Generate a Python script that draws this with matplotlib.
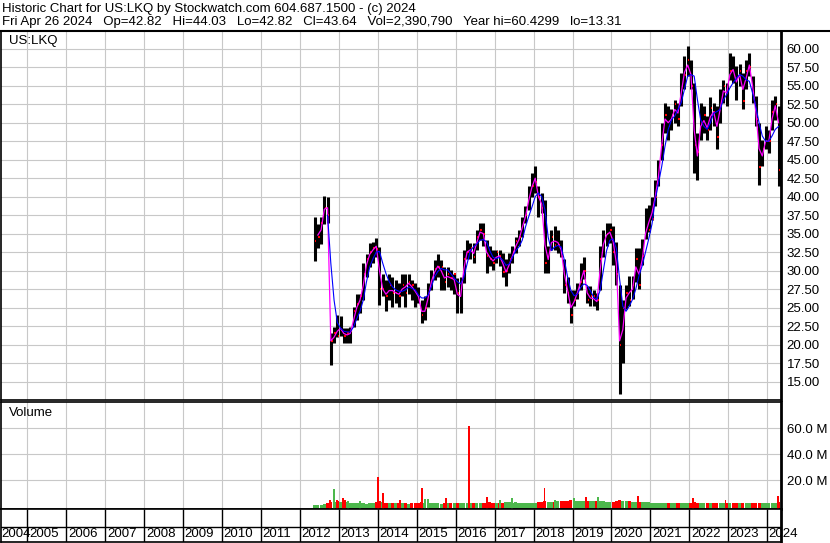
import matplotlib
matplotlib.use("Agg")
import matplotlib.pyplot as plt
import numpy as np

plt.rcParams['font.family'] = ['Liberation Sans', 'DejaVu Sans']

# colors
red = '#ff0000'
green = '#4cb84c'
magenta = '#ff00ff'
blue = '#0000ff'
grid_grey = '#c8c8c8'

# monthly bars, May 2012 .. Apr 2024 (pre-split prices until Sep 2012)
first_year, first_month = 2012, 5
price_hi = [37.2, 36.3, 37.2, 40.1, 40.0, 21.5, 22.4, 24.0,
            23.8, 22.2, 22.2, 22.4, 25.1, 26.9, 26.9, 31.0, 32.3, 33.7, 33.9, 34.4,
            33.2, 29.6, 28.7, 29.6, 29.2, 28.7, 28.3, 29.6, 29.6, 29.6, 28.7, 28.3,
            27.8, 26.0, 26.5, 28.3, 30.1, 31.4, 32.3, 31.4, 30.5, 30.5, 30.1, 29.6,
            29.0, 29.2, 32.8, 34.2, 33.7, 33.7, 35.5, 36.4, 36.4, 34.2, 33.3, 32.8,
            32.8, 32.8, 32.4, 31.5, 32.4, 33.3, 34.6, 35.5, 37.3, 38.7, 41.4, 43.2,
            44.1, 41.4, 40.5, 39.6, 33.3, 35.5, 36.0, 35.5, 34.2, 31.5, 29.2, 27.4,
            27.4, 28.3, 31.0, 31.9, 27.9, 27.9, 27.4, 27.0, 33.3, 35.5, 36.4, 36.4,
            36.0, 33.9, 28.0, 26.0, 28.0, 29.3, 29.3, 33.0, 33.0, 34.3, 38.4, 38.9,
            40.0, 42.3, 45.0, 50.0, 52.7, 52.2, 51.8, 53.1, 52.7, 56.7, 59.0, 60.4,
            58.5, 55.4, 48.6, 52.7, 52.2, 50.9, 53.5, 52.7, 52.2, 54.5, 55.8, 55.4,
            59.4, 59.0, 57.6, 58.0, 56.7, 58.5, 59.4, 56.3, 53.6, 50.0, 47.7, 49.5,
            49.0, 53.1, 53.6, 52.2]
price_lo = [31.3, 33.1, 33.6, 36.3, 36.5, 17.3, 20.2, 21.0,
            21.1, 20.2, 20.2, 20.2, 22.4, 23.3, 24.2, 26.0, 29.2, 30.5, 31.0, 31.9,
            25.4, 26.5, 24.5, 26.0, 25.1, 25.6, 25.1, 26.5, 25.1, 26.9, 26.0, 25.1,
            25.6, 22.9, 23.3, 25.1, 27.4, 28.7, 29.2, 27.4, 27.4, 27.8, 27.4, 26.9,
            24.2, 24.3, 28.3, 31.5, 31.5, 31.0, 32.8, 34.2, 33.3, 29.7, 30.6, 30.1,
            31.0, 30.6, 29.2, 27.9, 29.7, 31.0, 32.4, 33.3, 34.6, 36.4, 38.2, 40.0,
            40.5, 37.3, 37.8, 29.7, 29.7, 32.8, 32.8, 32.4, 31.9, 27.0, 25.6, 22.9,
            25.2, 26.1, 27.4, 28.8, 25.6, 25.2, 25.2, 24.7, 27.4, 31.9, 33.3, 33.7,
            30.7, 28.0, 13.3, 17.5, 24.8, 25.2, 26.1, 28.4, 27.5, 30.7, 34.3, 35.2,
            36.9, 38.7, 41.4, 45.0, 48.6, 47.7, 49.0, 50.0, 49.5, 52.2, 54.5, 56.3,
            54.5, 43.2, 42.3, 47.7, 48.6, 47.7, 49.0, 49.5, 46.4, 50.0, 52.7, 52.2,
            55.8, 55.4, 53.1, 54.9, 51.8, 54.5, 56.3, 52.7, 49.5, 41.6, 44.1, 46.4,
            45.9, 49.0, 50.4, 41.4]
price_close = [34.0, 34.5, 36.5, 38.5, 37.5, 20.5, 21.5, 21.2,
               22.0, 21.2, 21.5, 21.8, 24.5, 25.5, 26.5, 29.5, 31.5, 32.5, 33.0, 32.9,
               27.5, 27.5, 26.5, 28.0, 27.0, 27.0, 26.5, 28.0, 27.0, 28.5, 28.0, 27.0,
               26.0, 24.0, 25.0, 27.0, 29.0, 30.2, 30.5, 30.5, 28.5, 29.5, 29.0, 29.5,
               27.0, 28.5, 31.5, 32.5, 33.0, 31.8, 34.5, 35.5, 35.0, 32.0, 31.5, 31.0,
               32.5, 32.0, 29.8, 30.0, 31.5, 32.5, 34.0, 34.5, 36.5, 37.5, 40.0, 41.5,
               42.0, 40.0, 38.5, 31.0, 32.5, 34.5, 33.5, 33.5, 32.0, 28.0, 27.0, 24.0,
               26.0, 27.0, 28.5, 30.0, 26.0, 26.5, 26.5, 26.0, 31.5, 34.0, 35.0, 35.5,
               32.5, 29.5, 20.0, 25.0, 27.0, 26.0, 28.0, 31.5, 28.0, 32.0, 35.5, 35.5,
               37.0, 40.0, 42.5, 47.0, 51.0, 49.5, 51.0, 52.5, 50.5, 55.0, 56.5, 58.5,
               55.0, 47.0, 46.0, 50.0, 51.0, 49.0, 52.0, 51.5, 48.0, 53.0, 55.0, 54.0,
               57.0, 56.5, 56.0, 57.0, 53.0, 57.0, 57.5, 54.0, 50.5, 44.0, 46.5, 47.5,
               47.5, 51.5, 52.5, 43.64]

# short average (magenta) from Jun 2012, long average (blue) from Sep 2012
ma_short = [34.8, 35.5, 38.3, 38.5, 20.5, 21.0, 21.8,
            22.2, 21.5, 21.3, 21.5, 23.3, 25.0, 26.0, 28.0, 30.8, 32.2, 32.8, 33.3,
            30.0, 27.5, 26.8, 27.3, 27.3, 27.0, 26.8, 27.5, 27.8, 28.3, 27.8, 27.2,
            26.5, 24.5, 24.5, 26.3, 28.5, 29.8, 30.6, 30.0, 29.0, 29.2, 29.0, 28.8,
            26.8, 26.5, 30.2, 32.5, 32.8, 32.3, 33.8, 35.2, 35.0, 32.5, 31.8, 31.3,
            31.8, 32.0, 31.0, 29.8, 30.8, 32.0, 33.3, 34.2, 35.8, 37.3, 39.5, 41.3,
            42.5, 40.0, 39.0, 33.5, 31.5, 33.8, 34.0, 33.8, 32.8, 29.5, 27.3, 25.0,
            25.8, 27.0, 28.5, 30.0, 27.0, 26.3, 26.2, 25.8, 30.0, 33.5, 34.8, 35.2,
            34.0, 31.0, 20.5, 22.0, 26.3, 27.0, 27.5, 30.5, 29.5, 31.5, 35.0, 36.5,
            37.8, 40.0, 42.8, 47.0, 50.5, 50.0, 50.5, 51.8, 51.3, 54.0, 56.8, 57.8,
            56.5, 49.0, 45.5, 49.5, 50.3, 49.3, 50.8, 51.5, 49.5, 51.8, 54.3, 54.0,
            56.5, 57.2, 55.5, 56.5, 54.5, 56.0, 57.8, 55.0, 51.5, 46.5, 45.5, 47.5,
            47.5, 50.5, 52.3, 50.0]
ma_long = [37.5, 31.0, 26.0, 23.0,
           22.2, 21.8, 21.7, 21.7, 22.4, 23.5, 24.5, 26.0, 28.5, 30.5, 31.6, 32.5,
           32.6, 31.0, 29.6, 28.5, 27.8, 27.4, 27.2, 27.2, 27.4, 27.8, 27.6, 27.4,
           26.7, 26.3, 26.3, 26.7, 27.8, 29.2, 29.9, 30.3, 30.1, 30.1, 29.6, 29.0,
           28.5, 28.2, 29.1, 30.9, 32.7, 33.2, 33.6, 34.1, 34.2, 33.9, 32.7, 31.8,
           31.6, 31.8, 31.4, 30.7, 30.9, 31.8, 32.7, 33.2, 34.1, 35.9, 37.3, 38.6,
           40.0, 40.5, 40.0, 38.2, 34.5, 32.7, 33.2, 33.4, 33.2, 31.4, 29.1, 27.3,
           26.6, 26.8, 27.7, 28.2, 28.0, 27.3, 26.4, 26.1, 27.3, 30.0, 32.7, 34.1,
           34.3, 33.0, 28.9, 25.2, 24.5, 25.2, 26.1, 27.5, 29.3, 30.7, 32.5, 34.3,
           36.3, 39.6, 41.8, 44.1, 46.8, 49.1, 50.4, 50.9, 51.8, 52.7, 54.5, 56.3,
           56.5, 56.3, 53.1, 50.4, 49.5, 49.1, 50.0, 51.3, 51.5, 51.8, 53.1, 53.8,
           54.7, 55.4, 56.0, 56.5, 56.3, 55.8, 55.6, 54.0, 52.2, 50.0, 48.2, 47.5,
           47.5, 48.2, 49.1, 49.5]

# typical daily volume per month (millions) and the big single days
vol_base = [0.8, 0.8, 1.0, 1.2, 2.0, 3.0, 3.0, 3.5,
            3.0, 2.5, 3.0, 2.0, 2.0, 2.5, 2.0, 2.0, 1.5, 2.0, 2.5, 3.0,
            3.5, 3.0, 2.5, 2.5, 2.5, 2.0, 2.0, 2.0, 2.0, 1.5, 2.0, 2.5,
            2.5, 3.0, 2.5, 2.0, 2.0, 2.0, 2.0, 1.5, 2.0, 2.0, 2.0, 2.0,
            2.5, 2.5, 2.0, 2.0, 2.5, 2.5, 2.0, 2.5, 2.0, 2.5, 3.0, 2.5,
            2.5, 2.5, 2.0, 3.0, 3.0, 2.5, 3.0, 2.5, 2.0, 2.0, 2.0, 2.5,
            2.5, 3.0, 3.0, 4.0, 3.0, 3.0, 3.0, 3.5, 3.5, 4.0, 4.0, 4.5,
            3.5, 3.5, 3.5, 4.0, 3.5, 3.5, 3.5, 3.5, 3.5, 3.5, 3.0, 3.0,
            3.0, 3.5, 4.5, 4.0, 3.5, 3.5, 3.0, 3.0, 3.0, 3.0, 3.0, 3.0,
            2.5, 2.5, 2.5, 2.5, 2.0, 2.0, 2.0, 2.0, 2.0, 2.0, 2.0, 2.0,
            2.0, 3.0, 2.5, 2.5, 2.0, 2.0, 2.0, 2.0, 2.0, 2.0, 2.0, 2.0,
            2.0, 2.5, 2.0, 2.0, 2.5, 2.0, 2.0, 2.0, 2.0, 2.5, 2.5, 2.0,
            2.5, 2.5, 2.5, 3.0]
spike_t = [2012.77, 2012.86, 2012.88, 2012.94, 2013.11, 2013.16, 2013.24, 2013.54,
           2014.01, 2014.12, 2014.57, 2015.13, 2015.21, 2015.30, 2015.74, 2016.35,
           2016.80, 2017.14, 2017.44, 2018.28, 2018.55, 2019.05, 2019.34, 2019.66,
           2020.69, 2022.10, 2022.93, 2024.27]
spike_vol = [5.0, 7.0, 12.8, 4.5, 6.5, 5.0, 4.0, 4.0,
             22.6, 10.3, 5.0, 14.1, 5.5, 5.5, 6.0, 61.8,
             7.2, 5.0, 6.0, 14.1, 5.0, 6.5, 7.0, 7.0,
             7.5, 6.0, 5.0, 8.0]
spike_col = 'rrgrrrggrrrrggrrrggrggrgrrrr'

years = list(range(2004, 2025))
t_left, t_right = 2004.32, 2024.355

header_1 = 'Historic Chart for US:LKQ by Stockwatch.com 604.687.1500 - (c) 2024'
header_2 = ('Fri Apr 26 2024   Op=42.82   Hi=44.03   Lo=42.82   Cl=43.64   '
            'Vol=2,390,790   Year hi=60.4299   lo=13.31')
fsize = 9.5

# month mid points
n = len(price_hi)
t = first_year + (first_month - 1) / 12 + (np.arange(n) + 0.5) / 12
t_short = t[n - len(ma_short):]
t_long = t[n - len(ma_long):]

W, H = 830, 543
fig = plt.figure(figsize=(W / 100, H / 100), dpi=100)


def box(x0, y0, x1, y1):
    return [x0 / W, 1 - y1 / H, (x1 - x0) / W, (y1 - y0) / H]


ax = fig.add_axes(box(1, 31, 781, 400))
axv = fig.add_axes(box(1, 402, 781, 509))
axd = fig.add_axes(box(1, 509, 781, 542))

fig.text(2 / W, 1 - 9 / H, header_1, fontsize=fsize, va='center')
fig.text(2 / W, 1 - 22.5 / H, header_2, fontsize=fsize, va='center')
fig.add_artist(plt.Line2D([0, 1], [1 - 31 / H, 1 - 31 / H], color='black', lw=1.5))

# Price panel
ax.vlines(t, price_lo, price_hi, color='black', lw=2.2, zorder=2)
ax.hlines(price_close, t + 0.01, t + 0.045, color=red, lw=1.5, zorder=3)
ax.plot(t_short, ma_short, color=magenta, lw=0.9, zorder=4)
ax.plot(t_long, ma_long, color=blue, lw=0.8, zorder=5)
ax.set_xlim(t_left, t_right)
ax.set_ylim(12.5, 62.4)
ax.set_xticks(years[1:])
ax.set_yticks(np.arange(15, 60.1, 2.5))
ax.yaxis.set_major_formatter(lambda v, pos: f'{v:.2f}')
ax.grid(True, color=grid_grey, lw=0.8, zorder=0)
ax.set_axisbelow(True)
ax.text(8 / 780, 1 - 10 / 369, 'US:LKQ', transform=ax.transAxes, fontsize=fsize,
        va='center', ha='left')

# Volume panel
vol_floor = -2.3
prev = np.concatenate([[price_close[0]], price_close[:-1]])
base_cols = [green if c >= p else red for c, p in zip(price_close, prev)]
axv.bar(t, np.array(vol_base) - vol_floor, bottom=vol_floor, width=1 / 12 * 0.95,
        color=base_cols, linewidth=0, zorder=2)
axv.bar(spike_t, np.array(spike_vol) - vol_floor, bottom=vol_floor, width=0.05,
        color=[red if c == 'r' else green for c in spike_col], linewidth=0,
        zorder=3)
axv.set_xlim(t_left, t_right)
axv.set_ylim(vol_floor, 80)
axv.set_xticks(years[1:])
axv.set_yticks([20, 40, 60])
axv.set_yticklabels(['20.0 M', '40.0 M', '60.0 M'])
axv.grid(True, color=grid_grey, lw=0.8, zorder=0)
axv.set_axisbelow(True)
axv.text(8 / 780, 1 - 11 / 107, 'Volume', transform=axv.transAxes, fontsize=fsize,
         va='center', ha='left')

for a in (ax, axv):
    a.tick_params(axis='x', length=0, labelbottom=False)
    a.tick_params(axis='y', length=0, labelleft=False, labelright=True, pad=4,
                  labelsize=fsize)

# Date strip
axd.set_xlim(t_left, t_right)
axd.set_ylim(0, 1)
axd.set_xticks([])
axd.set_yticks([])
axd.vlines(years[1:], 0, 1, color='black', lw=1.0)
axd.axhline(1 - 18 / 33, color='black', lw=1.0)
for yr in years:
    axd.text(max(yr, t_left - 0.04) + 0.04, 0.24, str(yr), fontsize=fsize,
             va='center', ha='left')

for a in (ax, axv, axd):
    for side in ('top', 'bottom', 'left'):
        a.spines[side].set_color('black')
        a.spines[side].set_linewidth(1.2)
    a.spines['right'].set_linewidth(2.0)

fig.savefig('out.png', dpi=100)
